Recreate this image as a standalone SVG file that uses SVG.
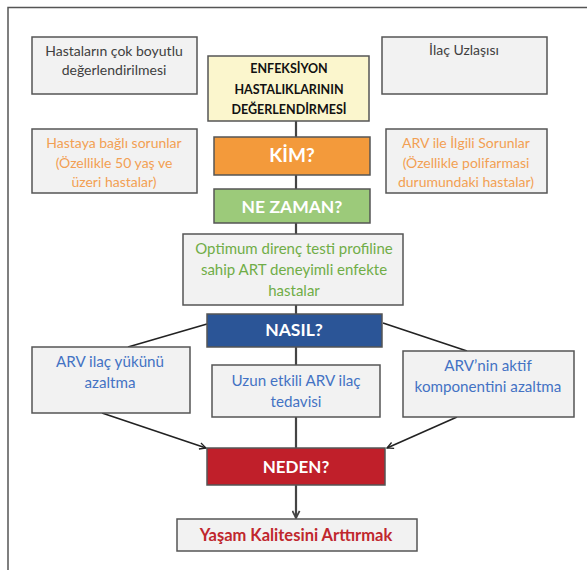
<svg xmlns="http://www.w3.org/2000/svg" width="587" height="570" viewBox="0 0 587 570">
<style>
text{font-family:Lato,"Open Sans","Liberation Sans",sans-serif;text-anchor:middle}
.g{fill:#f2f2f2;stroke:#555;stroke-width:1.5}
.t{font-size:14px;fill:#404040}
.o{font-size:14px;fill:#f2a053}
.gr{font-size:15px;fill:#70ad47}
.b{font-size:15.2px;fill:#4472c4}
.w{font-weight:bold;fill:#fff}
.k{font-weight:bold;font-size:12.5px;fill:#111}
.ln{stroke:#222;stroke-width:1.6;fill:none}
.sp{stroke:#444;stroke-width:2.2;fill:none}
</style>
<defs>
<marker id="ah" viewBox="0 0 10 10" refX="9" refY="5" markerWidth="8" markerHeight="8" orient="auto" markerUnits="userSpaceOnUse">
<path d="M1,1 L9,5 L1,9" fill="none" stroke="#222" stroke-width="1.6"/>
</marker>
<marker id="ah2" viewBox="0 0 10 10" refX="9" refY="5" markerWidth="9" markerHeight="9" orient="auto" markerUnits="userSpaceOnUse">
<path d="M1,1 L9,5 L1,9" fill="none" stroke="#444" stroke-width="2"/>
</marker>
</defs>
<rect x="0" y="0" width="587" height="570" fill="#fff"/>
<g id="frame"><path d="M8,570 V7.5 H587" fill="none" stroke="#555" stroke-width="1.5"/></g>
<g id="connectors">
<line class="sp" x1="296" y1="121" x2="296" y2="137"/>
<line class="sp" x1="296" y1="175" x2="296" y2="189"/>
<line class="sp" x1="296" y1="223" x2="296" y2="234"/>
<line class="sp" x1="296" y1="305" x2="296" y2="314"/>
<line class="sp" x1="296" y1="347" x2="296" y2="365"/>
<line class="sp" x1="296" y1="417" x2="296" y2="448"/>
<line class="sp" x1="296" y1="485" x2="296" y2="518" marker-end="url(#ah2)"/>
<line class="ln" x1="207" y1="324" x2="128" y2="347"/>
<line class="ln" x1="383" y1="323" x2="467" y2="351"/>
<line class="ln" x1="102" y1="413" x2="206" y2="448" marker-end="url(#ah)"/>
<line class="ln" x1="457" y1="417" x2="387" y2="448" marker-end="url(#ah)"/>
</g>
<g id="n-cok"><rect class="g" x="32" y="37" width="165" height="57"/>
<text class="t" x="114" y="56">Hastaların çok boyutlu</text><text class="t" x="114" y="75">değerlendirilmesi</text></g>
<g id="n-ilac"><rect class="g" x="382" y="37" width="165" height="57"/>
<text class="t" x="464" y="55">İlaç Uzlaşısı</text></g>
<g id="n-enf"><rect x="208" y="56" width="161" height="65" fill="#fbf6cd" stroke="#555" stroke-width="1.5"/>
<text class="k" x="289" y="73">ENFEKSİYON</text><text class="k" x="289" y="94">HASTALIKLARININ</text><text class="k" x="289" y="114">DEĞERLENDİRMESİ</text></g>
<g id="n-hasta"><rect class="g" x="32" y="129" width="165" height="64"/>
<text class="o" x="114" y="148">Hastaya bağlı sorunlar</text><text class="o" x="114" y="168">(Özellikle 50 yaş ve</text><text class="o" x="114" y="187">üzeri hastalar)</text></g>
<g id="n-arvsorun"><rect class="g" x="386" y="129" width="161" height="64"/>
<text class="o" x="466" y="148">ARV ile İlgili Sorunlar</text><text class="o" x="466" y="168">(Özellikle polifarmasi</text><text class="o" x="466" y="187">durumundaki hastalar)</text></g>
<g id="n-kim"><rect x="214" y="137" width="156" height="38" fill="#f39a3b" stroke="#555" stroke-width="1.5"/>
<text class="w" x="292" y="162" font-size="19">KİM?</text></g>
<g id="n-ne"><rect x="214" y="189" width="156" height="34" fill="#9cca7a" stroke="#555" stroke-width="1.5"/>
<text class="w" x="292" y="213" font-size="17.5">NE ZAMAN?</text></g>
<g id="n-opt"><rect class="g" x="183" y="234" width="220" height="71"/>
<text class="gr" x="294" y="254">Optimum direnç testi profiline</text><text class="gr" x="294" y="275">sahip ART deneyimli enfekte</text><text class="gr" x="294" y="296">hastalar</text></g>
<g id="n-nasil"><rect x="207" y="314" width="175" height="33" fill="#2b5597" stroke="#555" stroke-width="1.5"/>
<text class="w" x="294" y="336" font-size="17.5">NASIL?</text></g>
<g id="n-yuk"><rect class="g" x="32" y="347" width="158" height="66"/>
<text class="b" x="110" y="367">ARV ilaç yükünü</text><text class="b" x="110" y="388">azaltma</text></g>
<g id="n-uzun"><rect class="g" x="212" y="365" width="168" height="52"/>
<text class="b" x="296" y="386">Uzun etkili ARV ilaç</text><text class="b" x="296" y="407">tedavisi</text></g>
<g id="n-aktif"><rect class="g" x="403" y="351" width="171" height="66"/>
<text class="b" x="488" y="371">ARV’nin aktif</text><text class="b" x="488" y="392">komponentini azaltma</text></g>
<g id="n-neden"><rect x="207" y="448" width="178" height="37" fill="#c01f2a" stroke="#555" stroke-width="1.5"/>
<text class="w" x="296" y="473" font-size="17">NEDEN?</text></g>
<g id="n-yasam"><rect class="g" x="177" y="519" width="240" height="32"/>
<text x="296" y="541" font-size="16.5" font-weight="bold" fill="#c0272d">Yaşam Kalitesini Arttırmak</text></g>
</svg>
